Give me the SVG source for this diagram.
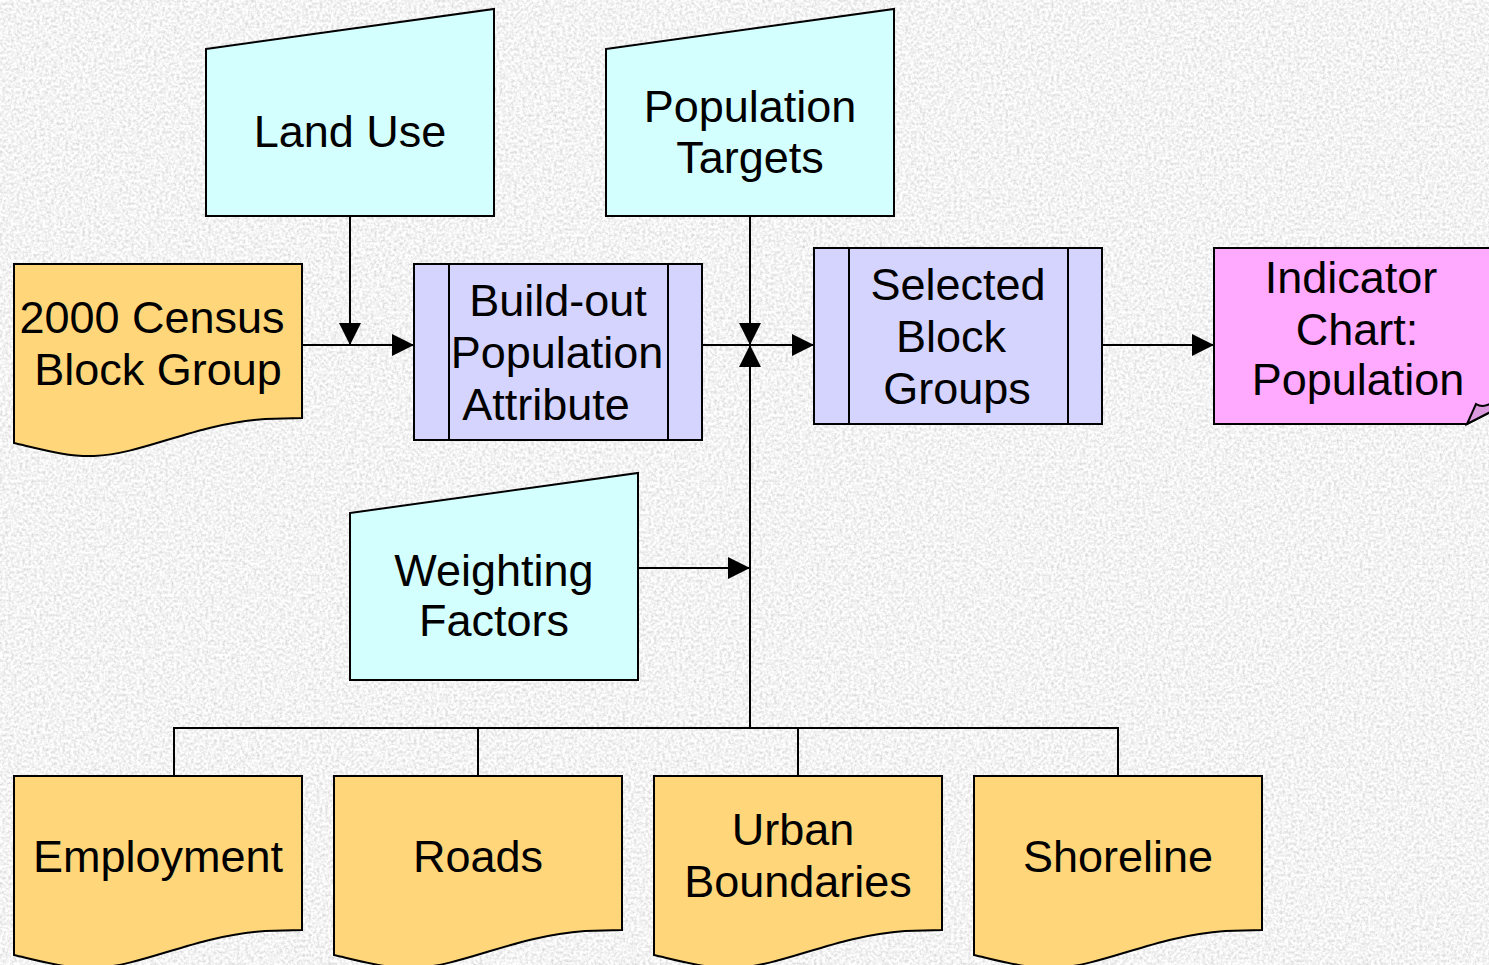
<svg xmlns="http://www.w3.org/2000/svg" width="1489" height="965" viewBox="0 0 1489 965">
<style>
.cy{fill:#d4ffff;stroke:#000;stroke-width:2}
.or{fill:#ffd67a;stroke:#000;stroke-width:2}
.lv{fill:#d4d4ff;stroke:#000;stroke-width:2}
.pk{fill:#ffaaff;stroke:#000;stroke-width:2}
.ln{fill:none;stroke:#000;stroke-width:2}
text{font-family:"Liberation Sans",Arial,sans-serif;font-size:45px;fill:#000;text-anchor:middle}
</style>
<defs>
<filter id="noise" x="0" y="0" width="100%" height="100%">
<feTurbulence type="fractalNoise" baseFrequency="0.35" numOctaves="4" seed="5"/>
<feColorMatrix type="matrix" values="0.6 0 0 0 0.6  0.6 0 0 0 0.6  0.6 0 0 0 0.6  0 0 0 0 1"/>
</filter>
<marker id="ar" viewBox="0 0 22 22" refX="22" refY="11" markerWidth="22" markerHeight="22" markerUnits="userSpaceOnUse" orient="auto">
<path d="M0,0 L22,11 L0,22 Z" fill="#000"/>
</marker>
<path id="doc" d="M0,0 H288 V154 L251,155 C180,160 130,190 80,192 C55,193 30,186 0,179 Z"/>
</defs>
<rect width="1489" height="965" fill="#e2e2e2"/>
<rect width="1489" height="965" filter="url(#noise)"/>

<g id="connectors">
<path class="ln" d="M350,216 V345" marker-end="url(#ar)"/>
<path class="ln" d="M302,345 H414" marker-end="url(#ar)"/>
<path class="ln" d="M750,216 V345" marker-end="url(#ar)"/>
<path class="ln" d="M750,728 V345" marker-end="url(#ar)"/>
<path class="ln" d="M702,345 H814" marker-end="url(#ar)"/>
<path class="ln" d="M638,568 H750" marker-end="url(#ar)"/>
<path class="ln" d="M1102,345 H1214" marker-end="url(#ar)"/>
<path class="ln" d="M174,776 V728 H1118 V776 M478,728 V776 M798,728 V776"/>
</g>

<g id="land-use">
<path class="cy" d="M206,49 L494,9 V216 H206 Z"/>
<text x="350" y="147">Land Use</text>
</g>

<g id="population-targets">
<path class="cy" d="M606,49 L894,9 V216 H606 Z"/>
<text x="750" y="122">Population</text>
<text x="750" y="173">Targets</text>
</g>

<g id="census-block-group">
<use href="#doc" x="14" y="264" class="or"/>
<text x="152" y="333">2000 Census</text>
<text x="158" y="385">Block Group</text>
</g>

<g id="buildout">
<rect class="lv" x="414" y="264" width="288" height="176"/>
<path class="ln" d="M449,264 V440 M668,264 V440"/>
<text x="558" y="316">Build-out</text>
<text x="557" y="368">Population</text>
<text x="546" y="420">Attribute</text>
</g>

<g id="selected-block-groups">
<rect class="lv" x="814" y="248" width="288" height="176"/>
<path class="ln" d="M849,248 V424 M1068,248 V424"/>
<text x="958" y="300">Selected</text>
<text x="951" y="352">Block</text>
<text x="957" y="404">Groups</text>
</g>

<g id="indicator-chart">
<path class="pk" d="M1214,248 H1495 V410 L1467,424 H1214 Z"/>
<path d="M1467,424 L1476,404 Q1482,408 1490,404 L1490,412 Z" fill="#dd99dd" stroke="#000" stroke-width="2"/>
<text x="1351" y="293">Indicator</text>
<text x="1357" y="345">Chart:</text>
<text x="1358" y="395">Population</text>
</g>

<g id="weighting-factors">
<path class="cy" d="M350,513 L638,473 V680 H350 Z"/>
<text x="494" y="586">Weighting</text>
<text x="494" y="636">Factors</text>
</g>

<g id="employment">
<use href="#doc" x="14" y="776" class="or"/>
<text x="158" y="872">Employment</text>
</g>

<g id="roads">
<use href="#doc" x="334" y="776" class="or"/>
<text x="478" y="872">Roads</text>
</g>

<g id="urban-boundaries">
<use href="#doc" x="654" y="776" class="or"/>
<text x="793" y="845">Urban</text>
<text x="798" y="897">Boundaries</text>
</g>

<g id="shoreline">
<use href="#doc" x="974" y="776" class="or"/>
<text x="1118" y="872">Shoreline</text>
</g>
</svg>
